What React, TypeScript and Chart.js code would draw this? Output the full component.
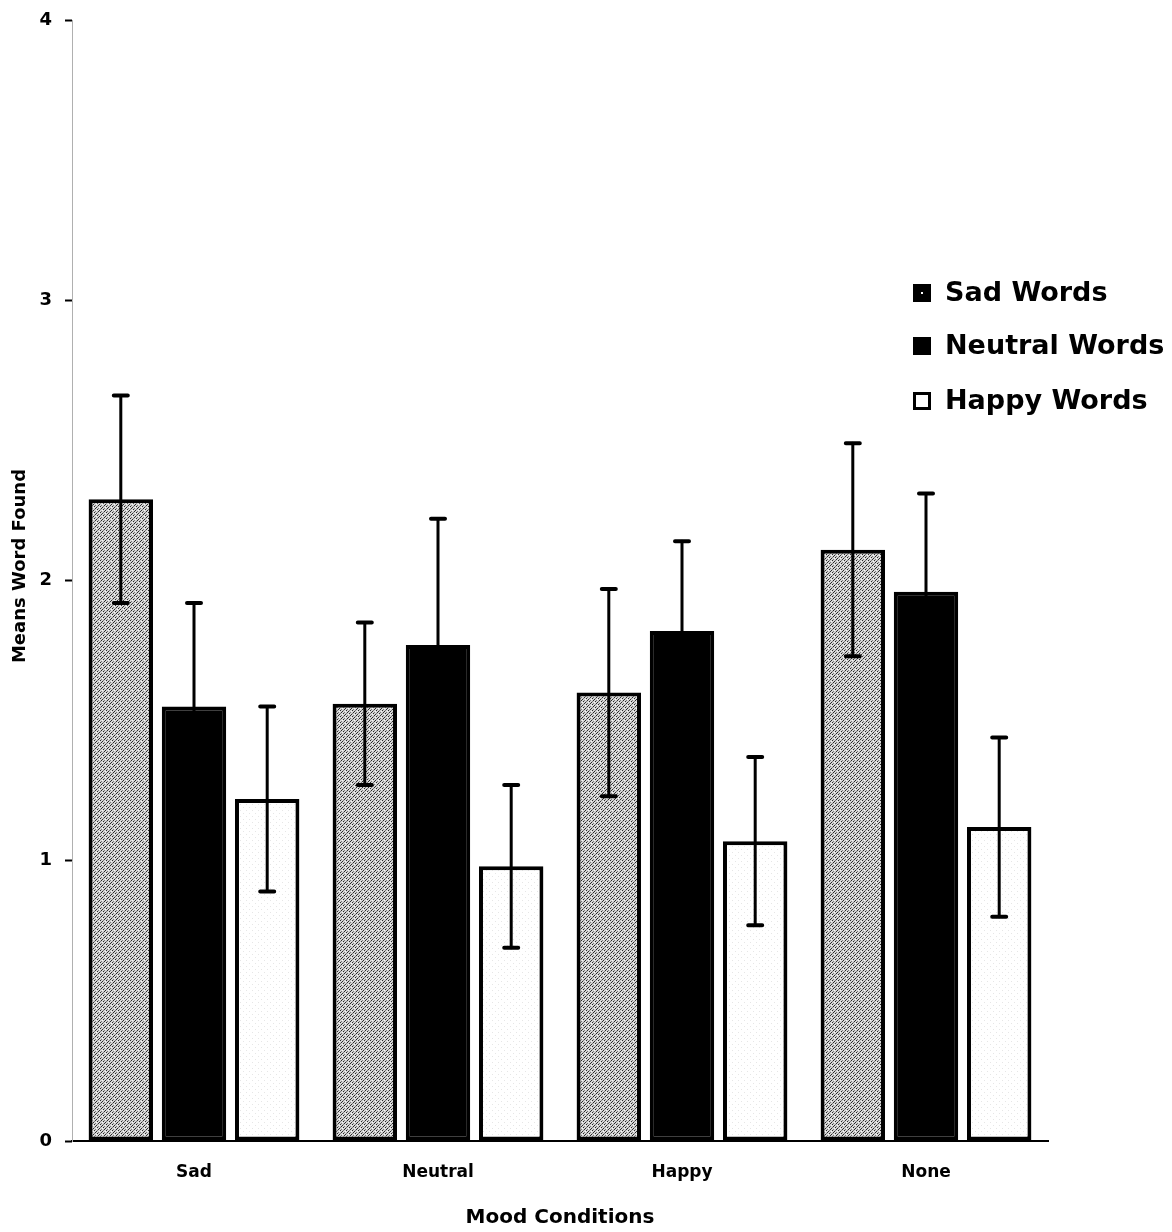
import React, { useEffect, useRef } from 'react';
import { Chart, registerables } from 'chart.js';

Chart.register(...registerables);

const categories = ['Sad', 'Neutral', 'Happy', 'None'];
const seriesNames = ['Sad Words', 'Neutral Words', 'Happy Words'];
const sadWords = [2.29, 1.56, 1.6, 2.11];
const neutralWords = [1.55, 1.77, 1.82, 1.96];
const happyWords = [1.22, 0.98, 1.07, 1.12];
const sadWordsErr = [0.37, 0.29, 0.37, 0.38];
const neutralWordsErr = [0.37, 0.45, 0.32, 0.35];
const happyWordsErr = [0.33, 0.29, 0.3, 0.32];
const yMin = 0;
const yMax = 4;
const yStep = 1;
const yTitle = 'Means Word Found';
const xTitle = 'Mood Conditions';

const FONT = "'DejaVu Sans', 'Liberation Sans', Arial, sans-serif";

function makePattern(kind: 'sad' | 'happy'): CanvasPattern | string {
  const c = document.createElement('canvas');
  c.width = 6;
  c.height = 6;
  const g = c.getContext('2d');
  if (!g) return kind === 'sad' ? '#bbb' : '#fff';
  if (kind === 'sad') {
    g.fillStyle = '#d6d6d6';
    g.fillRect(0, 0, 6, 6);
    g.fillStyle = '#2a2a2a';
    const pts = [[0, 5], [1, 4], [3, 2], [4, 1], [2, 0], [5, 3]];
    pts.forEach(([x, y]) => g.fillRect(x, y, 1, 1));
    g.fillStyle = '#777';
    [[2, 3], [5, 0], [0, 2], [3, 5]].forEach(([x, y]) => g.fillRect(x, y, 1, 1));
    g.fillStyle = '#f4f4f4';
    [[1, 1], [4, 4]].forEach(([x, y]) => g.fillRect(x, y, 1, 1));
  } else {
    g.fillStyle = '#ffffff';
    g.fillRect(0, 0, 6, 6);
    g.fillStyle = '#e6e6e6';
    [[1, 1], [4, 4]].forEach(([x, y]) => g.fillRect(x, y, 1, 1));
  }
  return g.createPattern(c, 'repeat') || '#ccc';
}

const errorBarsPlugin = {
  id: 'errorBars',
  afterDatasetsDraw(chart: any) {
    const errs = [sadWordsErr, neutralWordsErr, happyWordsErr];
    const ctx = chart.ctx;
    const y = chart.scales.y;
    ctx.save();
    ctx.strokeStyle = '#000';
    ctx.lineCap = 'round';
    chart.data.datasets.forEach((ds: any, i: number) => {
      const meta = chart.getDatasetMeta(i);
      meta.data.forEach((bar: any, j: number) => {
        const v = ds.data[j];
        const e = errs[i][j];
        const x = bar.x;
        const yt = y.getPixelForValue(v + e);
        const yb = y.getPixelForValue(v - e);
        ctx.lineWidth = 3;
        ctx.beginPath();
        ctx.moveTo(x, yt);
        ctx.lineTo(x, yb);
        ctx.stroke();
        ctx.lineWidth = 4;
        ctx.beginPath();
        ctx.moveTo(x - 7, yt);
        ctx.lineTo(x + 7, yt);
        ctx.moveTo(x - 7, yb);
        ctx.lineTo(x + 7, yb);
        ctx.stroke();
      });
    });
    ctx.restore();
  },
};

const textPlugin = {
  id: 'customText',
  afterDraw(chart: any) {
    const ctx = chart.ctx;
    ctx.save();
    // y axis title
    ctx.fillStyle = '#000';
    ctx.font = `bold 18px ${FONT}`;
    ctx.textAlign = 'center';
    ctx.textBaseline = 'middle';
    ctx.translate(12, 558);
    ctx.rotate(-Math.PI / 2);
    ctx.fillText(yTitle, 0, 0);
    ctx.restore();

    ctx.save();
    const sqX = 905;
    const txtX = 937;
    const rows = [285, 338, 393];
    const size = 18;
    ctx.font = `bold 27px ${FONT}`;
    ctx.textBaseline = 'middle';
    ctx.textAlign = 'left';
    seriesNames.forEach((name, i) => {
      const cy = rows[i];
      if (i === 2) {
        ctx.fillStyle = '#fff';
        ctx.fillRect(sqX, cy - size / 2, size, size);
        ctx.strokeStyle = '#000';
        ctx.lineWidth = 3;
        ctx.strokeRect(sqX + 1.5, cy - size / 2 + 1.5, size - 3, size - 3);
      } else {
        ctx.fillStyle = '#000';
        ctx.fillRect(sqX, cy - size / 2, size, size);
        if (i === 0) {
          ctx.fillStyle = '#fff';
          ctx.fillRect(sqX + size / 2 - 1, cy - 1, 2, 2);
        }
      }
      ctx.fillStyle = '#000';
      ctx.fillText(name, txtX, cy + 1);
    });
    ctx.restore();
  },
};

export default function App() {
  const ref = useRef<HTMLCanvasElement | null>(null);

  useEffect(() => {
    if (!ref.current) return;
    const sadPat = makePattern('sad');
    const happyPat = makePattern('happy');
    const common = {
      borderColor: '#000',
      borderWidth: 4,
      borderSkipped: false,
      categoryPercentage: 0.9,
      barPercentage: 0.88,
    };
    const chart = new Chart(ref.current, {
      type: 'bar',
      data: {
        labels: categories,
        datasets: [
          { label: seriesNames[0], data: sadWords, backgroundColor: sadPat as any, ...common },
          { label: seriesNames[1], data: neutralWords, backgroundColor: '#000', ...common },
          { label: seriesNames[2], data: happyWords, backgroundColor: happyPat as any, ...common },
        ],
      },
      options: {
        animation: false,
        responsive: true,
        maintainAspectRatio: false,
        layout: { padding: { top: 12, right: 116, left: 0, bottom: 0 } },
        plugins: {
          legend: { display: false },
          tooltip: { enabled: false },
        },
        scales: {
          x: {
            grid: { display: false, drawTicks: false },
            border: { display: true, color: '#000', width: 2 },
            ticks: {
              color: '#000',
              padding: 21,
              font: { family: FONT, weight: 'bold', size: 17 },
            },
            title: {
              display: true,
              text: xTitle,
              color: '#000',
              padding: { top: 0, bottom: 2 },
              font: { family: FONT, weight: 'bold', size: 20 },
            },
            afterFit(scale: any) {
              scale.height = 91;
              scale.paddingLeft = 0;
              scale.paddingRight = 0;
            },
          },
          y: {
            min: yMin,
            max: yMax,
            ticks: {
              stepSize: yStep,
              color: '#000',
              padding: 13,
              font: { family: FONT, weight: 'bold', size: 18 },
            },
            grid: {
              display: true,
              drawOnChartArea: false,
              drawTicks: true,
              tickLength: 7,
              tickColor: '#000',
              tickWidth: 2,
            },
            border: { display: true, color: '#b0b0b0', width: 1, dash: [3, 9] },
            afterFit(scale: any) {
              scale.width = 64;
              scale.paddingTop = 0;
              scale.paddingBottom = 0;
            },
          },
        },
      },
      plugins: [errorBarsPlugin, textPlugin],
    });
    return () => chart.destroy();
  }, []);

  return (
    <div style={{ position: 'relative', width: 1156, height: 1224 }}>
      <canvas ref={ref} />
    </div>
  );
}
